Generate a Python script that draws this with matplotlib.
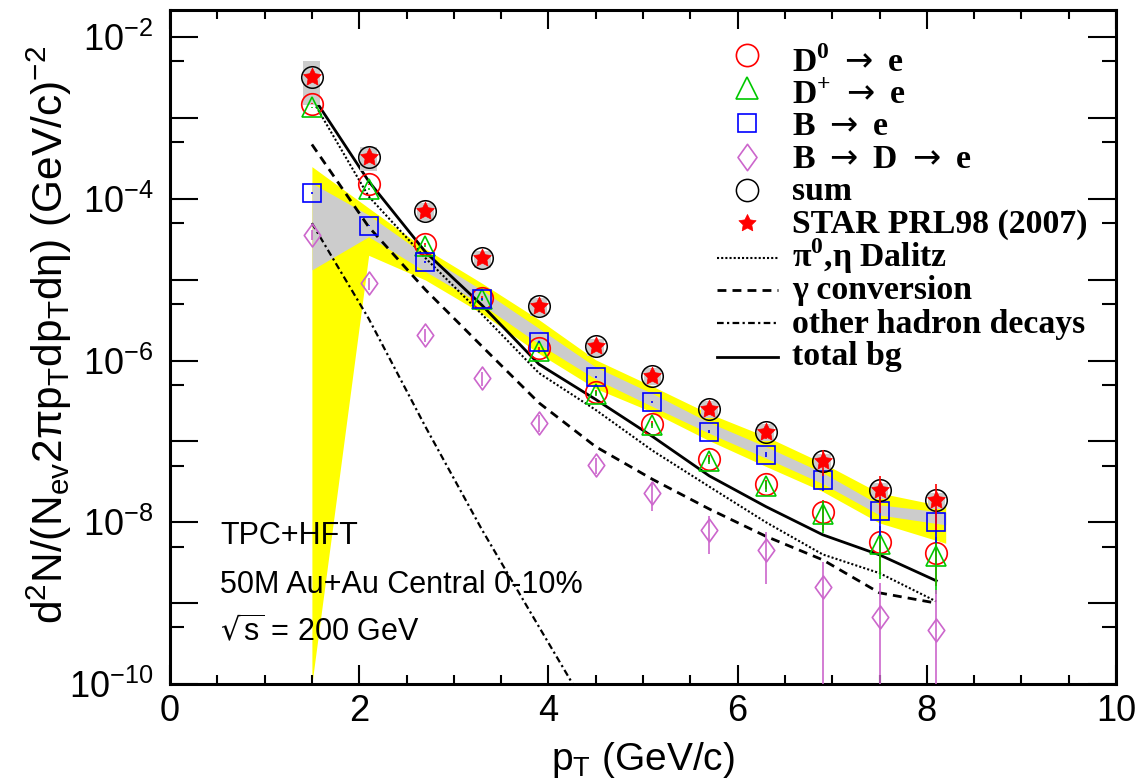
import numpy as np
import matplotlib
matplotlib.use("Agg")
import matplotlib.pyplot as plt
from matplotlib.path import Path
from matplotlib.patches import Rectangle
from matplotlib.ticker import NullFormatter

plt.rcParams["font.family"] = ["Liberation Sans", "DejaVu Sans"]
plt.rcParams["mathtext.fontset"] = "dejavusans"

# electron pT bin centres (GeV/c)
pt = [1.5, 2.1, 2.7, 3.3, 3.9, 4.5, 5.1, 5.7, 6.3, 6.9, 7.5, 8.1]

# heavy-flavour decay electron yields
d0_e = [1.49e-3, 1.51e-4, 2.74e-5, 6.0e-6, 1.42e-6, 4.05e-7, 1.65e-7, 6.1e-8, 2.95e-8, 1.34e-8, 5.7e-9, 4.15e-9]
d0_err = [2e-5, 3e-6, 8e-7, 2e-7, 6e-8, 2.5e-8, 1.2e-8, 6e-9, 4e-9, 5.5e-9, 3.4e-9, 2.5e-9]
dplus_e = [1.35e-3, 1.33e-4, 2.6e-5, 5.7e-6, 1.3e-6, 3.9e-7, 1.58e-7, 5.8e-8, 2.8e-8, 1.28e-8, 5.4e-9, 3.8e-9]
dplus_err = [2e-5, 3e-6, 8e-7, 2e-7, 6e-8, 2.5e-8, 1.2e-8, 6e-9, 4e-9, 5.5e-9, 3.4e-9, 2.5e-9]
b_e = [1.17e-4, 4.66e-5, 1.64e-5, 5.78e-6, 1.71e-6, 6.2e-7, 3.09e-7, 1.32e-7, 6.85e-8, 3.32e-8, 1.38e-8, 1.01e-8]
b_err = [3e-6, 1e-6, 4e-7, 1.5e-7, 5e-8, 2e-8, 1e-8, 6e-9, 5e-9, 9e-9, 7e-9, 4.5e-9]
bde_e = [3.6e-5, 9.0e-6, 2.08e-6, 6.0e-7, 1.7e-7, 5.1e-8, 2.27e-8, 8.0e-9, 4.6e-9, 1.6e-9, 6.8e-10, 4.7e-10]
bde_err = [5e-6, 1.5e-6, 4e-7, 1.2e-7, 4e-8, 1.2e-8, 9e-9, 4e-9, 2.9e-9, 1.6e-9, 1.1e-9, 1.0e-9]
sum_e = [3.23e-3, 3.31e-4, 7.06e-5, 1.84e-5, 4.77e-6, 1.5e-6, 6.5e-7, 2.55e-7, 1.32e-7, 5.75e-8, 2.5e-8, 1.9e-8]

# STAR PRL98 (2007) measurement
star_e = [3.23e-3, 3.31e-4, 7.06e-5, 1.84e-5, 4.77e-6, 1.5e-6, 6.5e-7, 2.55e-7, 1.32e-7, 5.75e-8, 2.5e-8, 1.9e-8]
star_stat = [1e-4, 2e-5, 4e-6, 1.2e-6, 4e-7, 1.5e-7, 7e-8, 4e-8, 2.5e-8, 2e-8, 1.2e-8, 1.1e-8]
star_sys = [1.78e-3, 1.1e-4, 1.8e-5, 4.5e-6, 1.2e-6, 3.5e-7, 1.5e-7, 6e-8, 3e-8, 1.3e-8, 5.5e-9, 4.3e-9]

# B -> e uncertainty bands
band_pt = [1.5, 2.1, 2.7, 3.3, 3.9, 4.5, 5.1, 5.7, 6.3, 6.9, 7.5, 8.2]
yellow_hi = [2.5e-4, 7.7e-5, 2.4e-5, 9.0e-6, 3.2e-6, 1.02e-6, 4.8e-7, 2.2e-7, 1.15e-7, 5.4e-8, 2.3e-8, 1.56e-8]
yellow_lo = [1e-10, 2.0e-5, 9.9e-6, 3.8e-6, 1.22e-6, 4.5e-7, 2.3e-7, 1.02e-7, 4.9e-8, 2.4e-8, 9.8e-9, 5.5e-9]
gray_hi = [1.56e-4, 6.3e-5, 2.0e-5, 7.4e-6, 2.5e-6, 8.3e-7, 3.9e-7, 1.71e-7, 8.6e-8, 4.1e-8, 1.64e-8, 1.32e-8]
gray_lo = [1.32e-5, 3.4e-5, 1.26e-5, 4.9e-6, 1.6e-6, 5.9e-7, 2.7e-7, 1.26e-7, 6.2e-8, 3.0e-8, 1.23e-8, 9.3e-9]

# photonic / hadronic background electrons
dalitz = [1.7e-3, 1.07e-4, 1.85e-5, 3.7e-6, 7.0e-7, 2.45e-7, 7.7e-8, 2.76e-8, 1.0e-8, 4.0e-9, 2.35e-9, 1.05e-9]
gamma_conv = [4.7e-4, 4.5e-5, 7.5e-6, 1.49e-6, 3.0e-7, 8.6e-8, 3.4e-8, 1.46e-8, 6.7e-9, 3.43e-9, 1.34e-9, 1.0e-9]
other_had = [5.0e-5, 3.3e-6, 1.52e-7, 8.0e-9, 5.1e-10, 3.3e-11]
total_bg = [1.92e-3, 1.65e-4, 2.2e-5, 4.8e-6, 9.0e-7, 3.3e-7, 1.15e-7, 3.75e-8, 1.56e-8, 7.0e-9, 3.95e-9, 1.89e-9]

x_ticks = [0, 2, 4, 6, 8, 10]
x_tick_labels = ["0", "2", "4", "6", "8", "10"]
y_exponents = list(range(-10, -1))
notes = ["TPC+HFT", "50M Au+Au Central 0-10%", r"$\sqrt{\mathregular{s}}$ = 200 GeV"]

W, H = 1139, 783
fig = plt.figure(figsize=(W / 100, H / 100), dpi=100)
ax_l, ax_r, ax_b, ax_t = 170, 1116, 684, 10
ax = fig.add_axes([ax_l / W, 1 - ax_b / H, (ax_r - ax_l) / W, (ax_b - ax_t) / H])
ax.set_yscale("log")
ax.set_xlim(0, 10)
ax.set_ylim(1e-10, 2.16e-2)


def asym(vals, errs):
    v = np.asarray(vals, float)
    e = np.asarray(errs, float)
    lo = np.where(e >= v, v * (1 - 1e-6), e)
    return [lo, e]


# marker shapes
diamond = Path([(0, 1), (0.72, 0), (0, -1), (-0.72, 0), (0, 1)],
               [Path.MOVETO, Path.LINETO, Path.LINETO, Path.LINETO, Path.CLOSEPOLY])
ang = np.pi / 2 + np.arange(10) * np.pi / 5
rad = np.where(np.arange(10) % 2 == 0, 1.0, 0.5)
star_verts = np.column_stack([rad * np.cos(ang), rad * np.sin(ang)])
star = Path(np.vstack([star_verts, star_verts[:1]]),
            [Path.MOVETO] + [Path.LINETO] * 9 + [Path.CLOSEPOLY])

YELLOW = "#ffff00"
GRAY = "#cccccc"
VIOLET = "#cc66cc"
GREEN = "#00c800"

# uncertainty bands
ax.fill_between(band_pt, yellow_lo, yellow_hi, color=YELLOW, lw=0, zorder=1)
ax.fill_between(band_pt, gray_lo, gray_hi, color=GRAY, lw=0, zorder=1.5)

# background curves
line_styles = {
    "dalitz": dict(color="black", lw=1.5, dashes=(1, 1)),
    "gamma": dict(color="black", lw=2.0, dashes=(3.2, 2.2)),
    "other": dict(color="black", lw=1.6, dashes=(3, 1.5, 1, 1.5)),
    "total": dict(color="black", lw=2.0, ls="-"),
}
ax.plot(pt, dalitz, zorder=3, **line_styles["dalitz"])
ax.plot(pt, gamma_conv, zorder=3, **line_styles["gamma"])
ax.plot(pt[:len(other_had)], other_had, zorder=3, **line_styles["other"])
ax.plot(pt, total_bg, zorder=3, **line_styles["total"])

# STAR systematic boxes
for x, y, s in zip(pt, star_e, star_sys):
    ax.add_patch(Rectangle((x - 0.09, y - s), 0.18, 2 * s, facecolor=GRAY,
                           edgecolor="none", zorder=4))

mk = dict(capsize=0, elinewidth=1.2, mew=1.2, mfc="none", ls="none")
ax.errorbar(pt, d0_e, yerr=asym(d0_e, d0_err), marker="o", ms=15.5,
            mec="red", ecolor="red", zorder=6, **mk)
ax.errorbar(pt, dplus_e, yerr=asym(dplus_e, dplus_err), marker="^", ms=15.0,
            mec=GREEN, ecolor=GREEN, zorder=6.1, **mk)
ax.errorbar(pt, b_e, yerr=asym(b_e, b_err), marker="s", ms=13.5,
            mec="blue", ecolor="blue", zorder=6.2, **mk)
ax.errorbar(pt, bde_e, yerr=asym(bde_e, bde_err), marker=diamond, ms=16.5,
            mec=VIOLET, ecolor=VIOLET, zorder=6.3, **mk)
ax.plot(pt, sum_e, ls="none", marker="o", ms=15.5, mfc="none", mec="black",
        mew=1.1, zorder=6.4)
ax.errorbar(pt, star_e, yerr=asym(star_e, star_stat), marker=star, ms=13.5,
            mfc="red", mec="red", mew=0.5, ecolor="red", elinewidth=1.2,
            capsize=0, ls="none", zorder=6.5)

# axes styling
for sp in ax.spines.values():
    sp.set_linewidth(2.2)
ax.set_xticks(x_ticks, labels=x_tick_labels)
ax.set_xticks(np.arange(0.5, 10, 1.0).tolist() + [1, 3, 5, 7, 9], minor=True)
ax.set_yticks([10.0 ** k for k in y_exponents],
              labels=[("10$^{\\mathregular{%d}}$" % k) if k % 2 == 0 else "" for k in y_exponents])
ax.set_yticks([5 * 10.0 ** k for k in range(-10, -2)], minor=True)
ax.yaxis.set_minor_formatter(NullFormatter())
ax.tick_params(which="both", direction="in", top=True, right=True, width=1.5,
               labelsize=26)
ax.tick_params(axis="x", which="major", length=13.5, pad=7)
ax.tick_params(axis="x", which="minor", length=6.5)
ax.tick_params(axis="y", which="major", length=20, pad=12)
ax.tick_params(axis="y", which="minor", length=10)

ax.set_xlabel(r"p$_{\mathregular{T}}$ (GeV/c)", fontsize=28)
ax.xaxis.set_label_coords(0.5, -0.128)
ax.xaxis.label.set_va("baseline")
ax.set_ylabel(r"d$^{\mathregular{2}}$N/(N$_{\mathregular{ev}}$2πp$_{\mathregular{T}}$dp$_{\mathregular{T}}$dη) (GeV/c)$^{\mathregular{-2}}$",
              fontsize=30.5)
ax.yaxis.set_label_coords(-0.128, 0.518)
ax.yaxis.label.set_va("center")

# run conditions
for txt, yb in zip(notes, [0.2077, 0.1345, 0.0628]):
    ax.text(0.053, yb, txt, transform=ax.transAxes, fontsize=22, va="baseline",
            ha="left")


# legend drawn entry by entry
def fy(py):
    return (ax_b - py) / (ax_b - ax_t)


def fx(px):
    return (px - ax_l) / (ax_r - ax_l)


leg_font = dict(fontsize=24.3, family=["Liberation Serif", "DejaVu Serif"],
                weight="bold", va="baseline", ha="left")
mx = fx(747)
lx0, lx1 = fx(717), fx(778)
tx = fx(792)
ARROW = r"$\rightarrow$"
legend_entries = [
    ("marker", dict(marker="o", ms=16, mfc="none", mec="red", mew=1.2), 55, 71.7,
     r"D$^{\mathregular{0}}$ " + ARROW + " e"),
    ("marker", dict(marker="^", ms=15.5, mfc="none", mec=GREEN, mew=1.2), 88.3, 104,
     r"D$^{\mathregular{+}}$ " + ARROW + " e"),
    ("marker", dict(marker="s", ms=13.5, mfc="none", mec="blue", mew=1.2), 123.3, 135,
     "B " + ARROW + " e"),
    ("marker", dict(marker=diamond, ms=19, mfc="none", mec=VIOLET, mew=1.2), 156.7, 168.3,
     "B " + ARROW + " D " + ARROW + " e"),
    ("marker", dict(marker="o", ms=16, mfc="none", mec="black", mew=1.1), 190, 200,
     "sum"),
    ("marker", dict(marker=star, ms=13, mfc="red", mec="red", mew=0.5), 223.3, 232.5,
     "STAR PRL98 (2007)"),
    ("line", line_styles["dalitz"], 258.3, 267.5, r"π$^{\mathregular{0}}$,η Dalitz"),
    ("line", line_styles["gamma"], 290, 299.3, "γ conversion"),
    ("line", line_styles["other"], 323.3, 332.7, "other hadron decays"),
    ("line", line_styles["total"], 356.7, 365, "total bg"),
]
for kind, style, py_h, py_t, label in legend_entries:
    if kind == "marker":
        ax.plot([mx], [fy(py_h)], transform=ax.transAxes, clip_on=False,
                ls="none", zorder=7, **style)
    else:
        ax.plot([lx0, lx1], [fy(py_h)] * 2, transform=ax.transAxes,
                clip_on=False, zorder=7, **style)
    ax.text(tx, fy(py_t), label, transform=ax.transAxes, zorder=7, **leg_font)

fig.savefig("out.png", dpi=100)
